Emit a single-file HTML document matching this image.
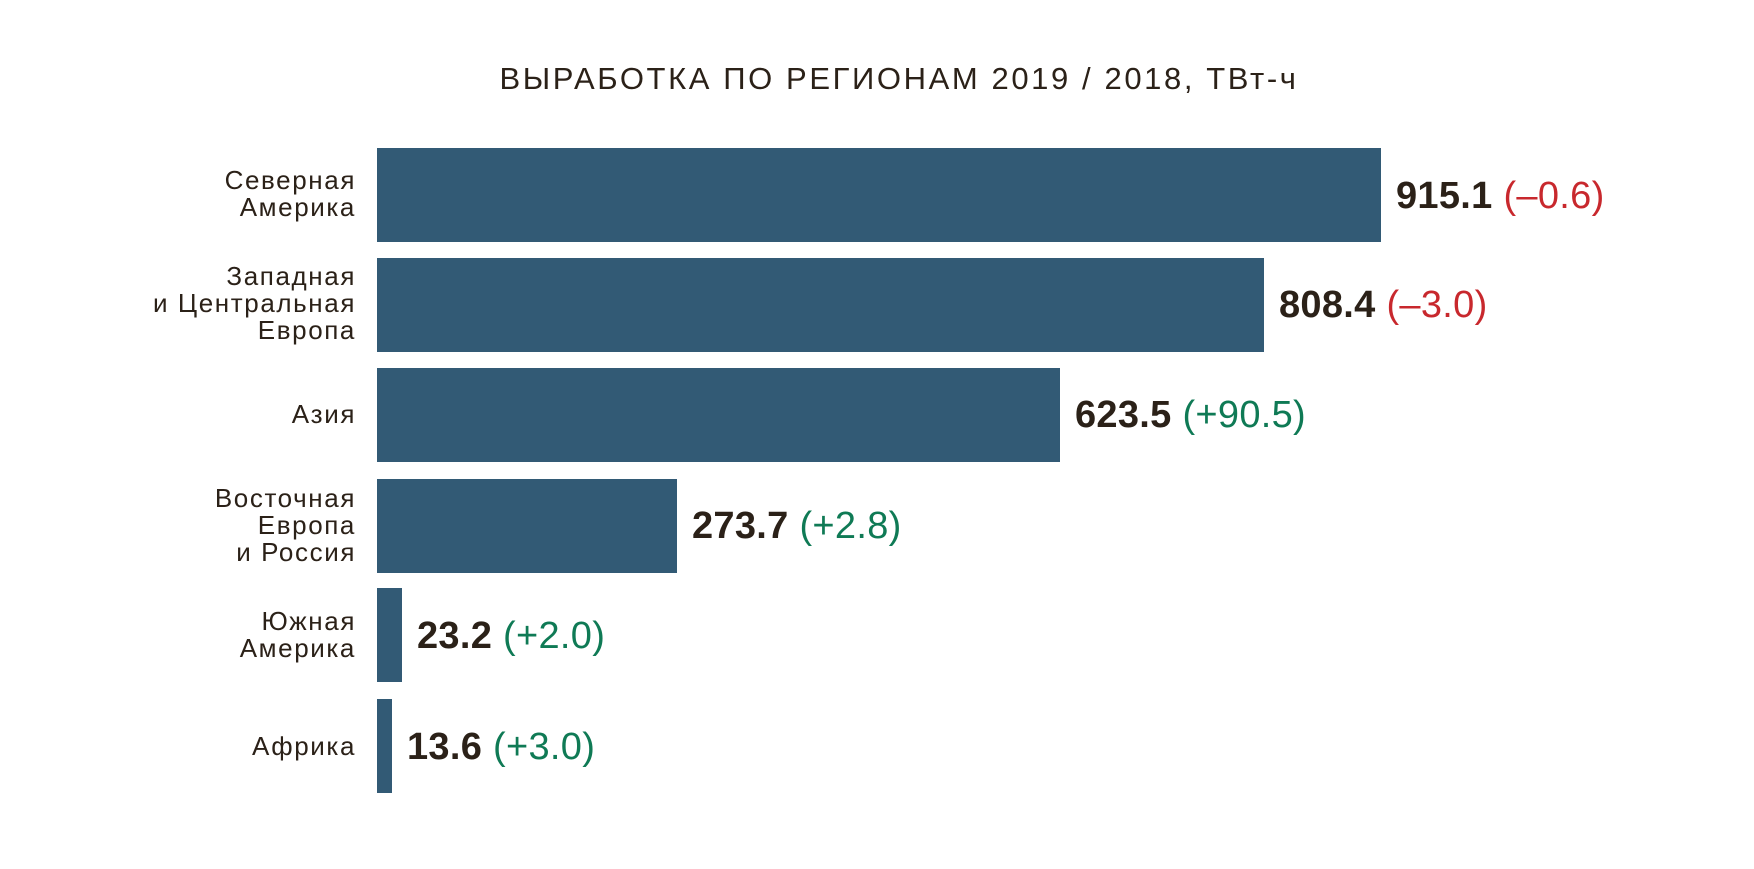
<!DOCTYPE html>
<html><head><meta charset="utf-8"><style>
body{margin:0;width:1754px;height:869px;background:#fff;position:relative;overflow:hidden;font-family:"Liberation Sans",sans-serif;color:#2b2118}
.t{position:absolute;left:22px;width:1754px;top:61px;text-align:center;font-size:31px;letter-spacing:2.6px}
.bar{position:absolute;left:377px;height:94px;background:#325a75}
.lab{position:absolute;right:1398px;text-align:right;font-size:26px;line-height:27px;letter-spacing:1.6px}
.v{position:absolute;font-size:38px;white-space:nowrap;line-height:40px;letter-spacing:0.3px}
.v b{font-weight:bold}
.r{color:#c8282d}.g{color:#0f7a55}
</style></head><body>
<div class="t">ВЫРАБОТКА ПО РЕГИОНАМ 2019 / 2018, ТВт-ч</div>

<div class="bar" style="top:148px;width:1004px"></div>
<div class="lab" style="top:167px">Северная<br>Америка</div>
<div class="v" style="top:176px;left:1396px"><b>915.1</b> <span class="r">(–0.6)</span></div>

<div class="bar" style="top:258px;width:887px"></div>
<div class="lab" style="top:263px">Западная<br>и Центральная<br>Европа</div>
<div class="v" style="top:285px;left:1279px"><b>808.4</b> <span class="r">(–3.0)</span></div>

<div class="bar" style="top:368px;width:683px"></div>
<div class="lab" style="top:401px">Азия</div>
<div class="v" style="top:395px;left:1075px"><b>623.5</b> <span class="g">(+90.5)</span></div>

<div class="bar" style="top:479px;width:300px"></div>
<div class="lab" style="top:485px">Восточная<br>Европа<br>и Россия</div>
<div class="v" style="top:506px;left:692px"><b>273.7</b> <span class="g">(+2.8)</span></div>

<div class="bar" style="top:588px;width:25px"></div>
<div class="lab" style="top:608px">Южная<br>Америка</div>
<div class="v" style="top:616px;left:417px"><b>23.2</b> <span class="g">(+2.0)</span></div>

<div class="bar" style="top:699px;width:15px"></div>
<div class="lab" style="top:733px">Африка</div>
<div class="v" style="top:727px;left:407px"><b>13.6</b> <span class="g">(+3.0)</span></div>
</body></html>
